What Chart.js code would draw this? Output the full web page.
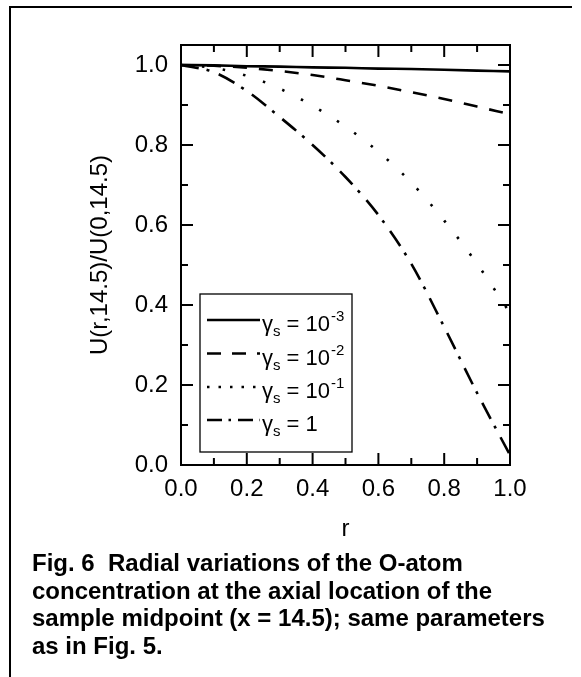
<!DOCTYPE html>
<html><head><meta charset="utf-8">
<script src="https://cdn.jsdelivr.net/npm/chart.js@4.4.0/dist/chart.umd.min.js"></script>
<style>
html,body{margin:0;padding:0;background:#fff;width:581px;height:677px;overflow:hidden;}
#frame{position:absolute;left:9px;top:6px;width:561px;height:700px;border-top:2px solid #000;border-left:2px solid #000;}
#wrap{position:absolute;left:0;top:0;width:581px;height:560px;}
#caption{position:absolute;left:32px;top:549px;font-family:"Liberation Sans",Arial,sans-serif;font-weight:bold;font-size:24px;line-height:27.5px;color:#000;white-space:nowrap;}
</style></head><body>
<div id="frame"></div>
<div id="wrap"><canvas id="c" width="581" height="560" style="width:581px;height:560px"></canvas></div>
<div id="caption">Fig. 6&nbsp; Radial variations of the O-atom<br>concentration at the axial location of the<br>sample midpoint (x = 14.5); same parameters<br>as in Fig. 5.</div>
<script>
// ---- data ----
const rValues   = [0, 0.1, 0.2, 0.3, 0.4, 0.5, 0.6, 0.7, 0.8, 0.9, 1.0];
const uGamma1e3 = [1.0, 0.999, 0.997, 0.996, 0.994, 0.993, 0.991, 0.990, 0.988, 0.986, 0.984];
const uGamma1e2 = [1.0, 0.998, 0.993, 0.985, 0.975, 0.962, 0.948, 0.932, 0.915, 0.896, 0.877];
const uGamma1e1 = [1.0, 0.993, 0.973, 0.941, 0.898, 0.846, 0.783, 0.706, 0.611, 0.503, 0.380];
const uGamma1   = [1.0, 0.982, 0.935, 0.870, 0.800, 0.720, 0.625, 0.503, 0.345, 0.180, 0.025];
const legendBase = ['10', '10', '10', '1'];
const legendExp  = ['-3', '-2', '-1', ''];
const xTickValues = [0, 0.2, 0.4, 0.6, 0.8, 1.0];
const yTickValues = [0, 0.2, 0.4, 0.6, 0.8, 1.0];
const xMinorTicks = [0.1, 0.3, 0.5, 0.7, 0.9];
const yMinorTicks = [0.1, 0.3, 0.5, 0.7, 0.9];
const xTitle = 'r';
const yTitle = 'U(r,14.5)/U(0,14.5)';

const seriesValues = [uGamma1e3, uGamma1e2, uGamma1e1, uGamma1];
const dashes = [[], [14, 12], [2.5, 18.5], [18, 8, 3, 10]];
const legendDashes = [[], [14, 11], [2.5, 9], [15, 6.5, 2.5, 7]];

const FONT = '"Liberation Sans", Arial, sans-serif';

const datasets = seriesValues.map((vals, i) => ({
  label: 'gamma_s = ' + legendBase[i] + (legendExp[i] ? '^' + legendExp[i] : ''),
  data: rValues.map((r, j) => ({x: r, y: vals[j]})),
  borderColor: '#000',
  borderWidth: 2.6,
  borderDash: dashes[i],
  pointRadius: 0,
  fill: false,
  cubicInterpolationMode: 'monotone'
}));

const decorPlugin = {
  id: 'decor',
  afterDraw(chart) {
    const ctx = chart.ctx;
    const xs = chart.scales.x, ys = chart.scales.y;
    const a = chart.chartArea;
    ctx.save();
    ctx.strokeStyle = '#000';
    ctx.lineWidth = 2;
    ctx.setLineDash([]);
    ctx.strokeRect(a.left, a.top, a.right - a.left, a.bottom - a.top);
    const MAJ = 12, MIN = 7;
    ctx.beginPath();
    const vt = (vals, len) => vals.forEach(v => {
      const px = xs.getPixelForValue(v);
      ctx.moveTo(px, a.bottom); ctx.lineTo(px, a.bottom - len);
      ctx.moveTo(px, a.top); ctx.lineTo(px, a.top + len);
    });
    const ht = (vals, len) => vals.forEach(v => {
      const py = ys.getPixelForValue(v);
      ctx.moveTo(a.left, py); ctx.lineTo(a.left + len, py);
      ctx.moveTo(a.right, py); ctx.lineTo(a.right - len, py);
    });
    vt(xTickValues, MAJ); vt(xMinorTicks, MIN);
    ht(yTickValues, MAJ); ht(yMinorTicks, MIN);
    ctx.stroke();

    // legend
    const bx = 200, by = 294, bw = 152, bh = 158;
    ctx.fillStyle = '#fff';
    ctx.fillRect(bx, by, bw, bh);
    ctx.lineWidth = 1.3;
    ctx.strokeRect(bx, by, bw, bh);
    const rowY = [320, 353.5, 387, 420];
    chart.data.datasets.forEach((ds, i) => {
      const y = rowY[i];
      ctx.save();
      ctx.lineWidth = 2.6;
      ctx.setLineDash(legendDashes[i]);
      ctx.beginPath();
      ctx.moveTo(207, y); ctx.lineTo(260, y);
      ctx.stroke();
      ctx.restore();
      const base = y + 11;
      let x = 262;
      ctx.fillStyle = '#000';
      ctx.textBaseline = 'alphabetic';
      ctx.textAlign = 'left';
      ctx.font = '22px ' + FONT;
      ctx.fillText('\u03b3', x, base);
      x += ctx.measureText('\u03b3').width;
      ctx.font = '15px ' + FONT;
      ctx.fillText('s', x, base + 5);
      x += ctx.measureText('s').width;
      ctx.font = '22px ' + FONT;
      const t = ' = ' + legendBase[i];
      ctx.fillText(t, x, base);
      x += ctx.measureText(t).width;
      if (legendExp[i]) {
        ctx.font = '15px ' + FONT;
        ctx.fillText(legendExp[i], x + 1, base - 10);
      }
    });
    ctx.restore();
  }
};

new Chart(document.getElementById('c'), {
  type: 'line',
  data: {datasets},
  options: {
    responsive: false,
    devicePixelRatio: 1,
    animation: false,
    layout: {padding: {left: 0, top: 45, right: 71, bottom: 0}},
    plugins: {legend: {display: false}, tooltip: {enabled: false}},
    scales: {
      x: {
        type: 'linear', min: 0, max: 1,
        afterFit: s => { s.height = 95; },
        afterBuildTicks: s => { s.ticks = xTickValues.map(v => ({value: v})); },
        grid: {display: false, drawTicks: false},
        border: {display: false},
        ticks: {padding: 10, color: '#000', font: {family: FONT, size: 24}, maxRotation: 0,
                callback: v => Number(v).toFixed(1)},
        title: {display: true, text: xTitle, color: '#000', font: {family: FONT, size: 24},
                padding: {top: 0, bottom: 16}}
      },
      y: {
        type: 'linear', min: 0, max: 1.05,
        afterFit: s => { s.width = 181; },
        afterBuildTicks: s => { s.ticks = yTickValues.map(v => ({value: v})); },
        grid: {display: false, drawTicks: false},
        border: {display: false},
        ticks: {padding: 13, color: '#000', font: {family: FONT, size: 24},
                callback: v => Number(v).toFixed(1)},
        title: {display: true, text: yTitle, color: '#000', font: {family: FONT, size: 24},
                padding: {top: 86, bottom: 0}}
      }
    }
  },
  plugins: [decorPlugin]
});
</script>
</body></html>
